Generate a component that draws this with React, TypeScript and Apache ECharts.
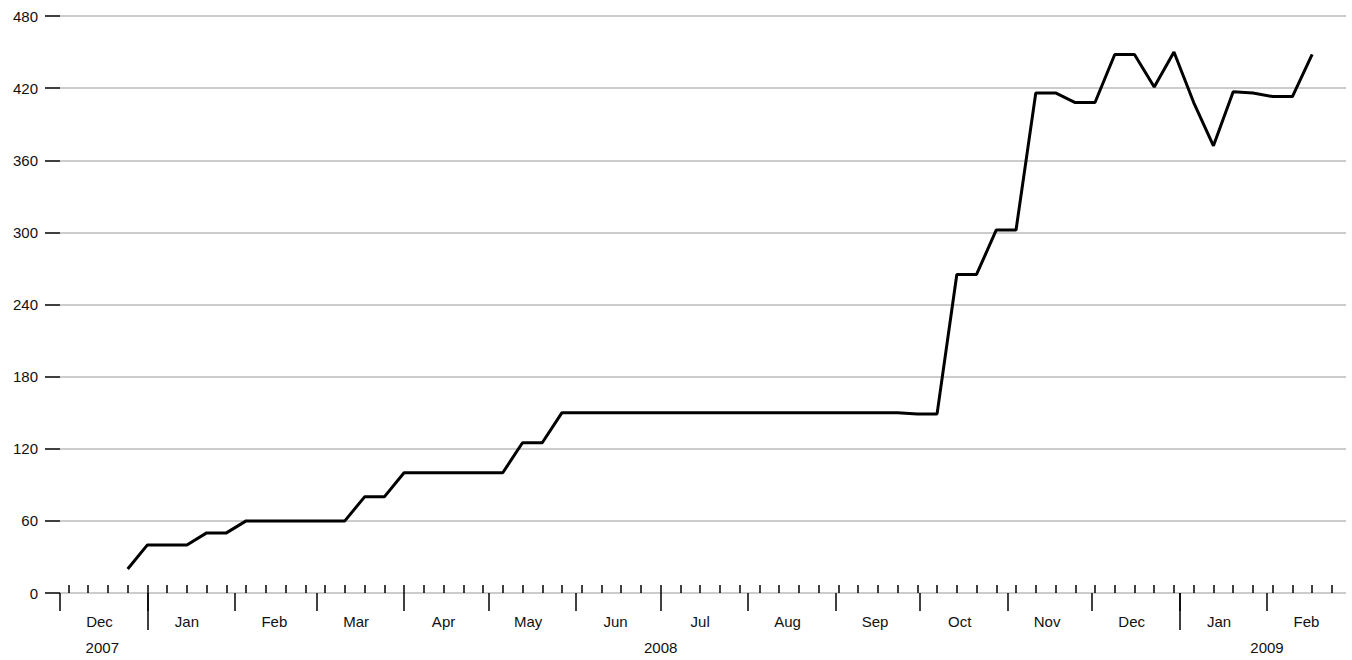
import { useEffect, useRef } from 'react'
import * as echarts from 'echarts'

const firstWeek = Date.UTC(2007, 11, 25)
const weekMs = 7 * 24 * 3600 * 1000
const values = [
  20, 40, 40, 40, 50, 50, 60, 60, 60, 60, 60, 60, 80, 80, 100, 100, 100, 100, 100, 100,
  125, 125, 150, 150, 150, 150, 150, 150, 150, 150, 150, 150, 150, 150, 150, 150, 150, 150, 150, 150,
  149, 149, 265, 265, 302, 302, 416, 416, 408, 408, 448, 448, 421, 450, 408, 372, 417, 416, 413, 413,
  448,
]
const monthNames = ['Jan', 'Feb', 'Mar', 'Apr', 'May', 'Jun', 'Jul', 'Aug', 'Sep', 'Oct', 'Nov', 'Dec']
// months shown: Dec 2007 .. Feb 2009
const months: [number, number][] = [
  [2007, 11], [2008, 0], [2008, 1], [2008, 2], [2008, 3], [2008, 4], [2008, 5], [2008, 6],
  [2008, 7], [2008, 8], [2008, 9], [2008, 10], [2008, 11], [2009, 0], [2009, 1],
]
const yearLabels: [string, number][] = [
  ['2007', Date.UTC(2007, 11, 16)],
  ['2008', Date.UTC(2008, 6, 1)],
  ['2009', Date.UTC(2009, 1, 1)],
]

const xMin = Date.UTC(2007, 11, 1)
const xMax = Date.UTC(2009, 2, 1)

export default function App() {
  const ref = useRef<HTMLDivElement | null>(null)

  useEffect(() => {
    const el = ref.current
    if (!el) return
    const chart = echarts.init(el, undefined, { renderer: 'svg' })

    const data = values.map((v, i) => [firstWeek + i * weekMs, v])
    const weekTicks: number[] = []
    for (let t = Date.UTC(2007, 11, 4); t < xMax; t += weekMs) weekTicks.push(t)
    const monthStarts = months.map(([y, m]) => Date.UTC(y, m, 1))
    const monthMids = months.map(([y, m]) => Date.UTC(y, m, 15))
    const labelFont = { fontFamily: 'Liberation Sans, Arial, sans-serif', fontSize: 15, color: '#111' }

    const baseX = {
      type: 'value' as const,
      min: xMin,
      max: xMax,
      position: 'bottom' as const,
      axisLine: { show: false },
      splitLine: { show: false },
    }

    chart.setOption({
      animation: false,
      grid: { left: 60, right: 6, top: 16, bottom: 67, containLabel: false },
      xAxis: [
        {
          ...baseX,
          axisTick: { show: true, inside: true, length: 8, customValues: weekTicks, lineStyle: { color: '#000', width: 1.5 } },
          axisLabel: { show: false },
        },
        {
          ...baseX,
          axisTick: { show: true, length: 18, customValues: monthStarts, lineStyle: { color: '#000', width: 1.5 } },
          axisLabel: {
            show: true,
            customValues: monthMids,
            margin: 21,
            ...labelFont,
            formatter: (v: number) => monthNames[new Date(v).getUTCMonth()],
          },
        },
        {
          ...baseX,
          axisTick: {
            show: true,
            length: 37,
            customValues: [Date.UTC(2008, 0, 1), Date.UTC(2009, 0, 1)],
            lineStyle: { color: '#000', width: 1.5 },
          },
          axisLabel: {
            show: true,
            customValues: yearLabels.map((y) => y[1]),
            margin: 47,
            ...labelFont,
            formatter: (v: number) => String(new Date(v).getUTCFullYear()),
          },
        },
      ],
      yAxis: {
        type: 'value',
        min: 0,
        max: 480,
        interval: 60,
        axisLine: { show: false },
        axisTick: { show: true, length: 15, lineStyle: { color: '#000', width: 1.5 } },
        axisLabel: { margin: 22, ...labelFont },
        splitLine: { lineStyle: { color: '#bbb', width: 1.5 } },
      },
      series: [
        {
          type: 'line',
          xAxisIndex: 0,
          data,
          showSymbol: false,
          lineStyle: { color: '#000', width: 3 },
        },
      ],
    })

    return () => chart.dispose()
  }, [])

  return <div ref={ref} style={{ position: 'absolute', left: 0, top: 0, width: 1352, height: 660, background: '#fff' }} />
}
